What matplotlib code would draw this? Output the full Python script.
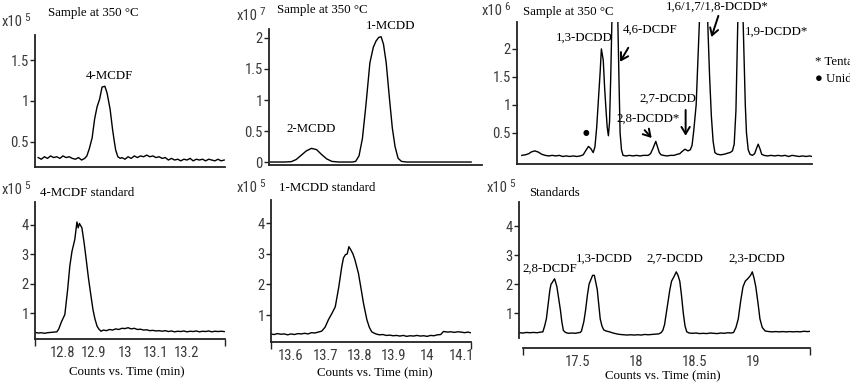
import matplotlib
matplotlib.use("Agg")
import matplotlib.pyplot as plt
from matplotlib import font_manager
from matplotlib.font_manager import FontProperties

# ---------------- data ----------------
# Top-left: sample at 350 °C, 4-MCDF (x10^5)
tl_t = [12.72, 12.73, 12.74, 12.75, 12.76, 12.77, 12.78, 12.79, 12.80, 12.81, 12.82, 12.83, 12.84,
        12.85, 12.86, 12.87, 12.877, 12.885, 12.894, 12.902, 12.91, 12.918, 12.926, 12.935, 12.942,
        12.952, 12.96, 12.965, 12.97, 12.977, 12.985, 12.99, 13.0, 13.01, 13.02, 13.03, 13.04, 13.05,
        13.06, 13.07, 13.08, 13.09, 13.10, 13.11, 13.12, 13.13, 13.14, 13.15, 13.16, 13.17, 13.18,
        13.19, 13.20, 13.21, 13.22, 13.23, 13.24, 13.25, 13.26, 13.27, 13.28, 13.29, 13.30, 13.31, 13.32]
tl_v = [0.31, 0.29, 0.32, 0.30, 0.33, 0.31, 0.32, 0.30, 0.33, 0.31, 0.32, 0.30, 0.29,
        0.31, 0.28, 0.30, 0.33, 0.42, 0.55, 0.78, 0.93, 1.02, 1.17, 1.18, 1.10,
        0.90, 0.65, 0.52, 0.40, 0.32, 0.30, 0.31, 0.29, 0.32, 0.30, 0.33, 0.31, 0.33,
        0.32, 0.34, 0.32, 0.33, 0.31, 0.32, 0.30, 0.31, 0.28, 0.30, 0.28, 0.29, 0.27,
        0.29, 0.28, 0.30, 0.27, 0.29, 0.28, 0.29, 0.27, 0.29, 0.28, 0.27, 0.29, 0.27, 0.28]

# Bottom-left: 4-MCDF standard (x10^5)
bl_t = [12.71, 12.72, 12.73, 12.74, 12.75, 12.76, 12.77, 12.78, 12.786, 12.795, 12.806, 12.815, 12.822,
        12.829, 12.838, 12.845, 12.849, 12.853, 12.861, 12.868, 12.874, 12.882, 12.89, 12.897, 12.903,
        12.91, 12.916, 12.923, 12.93, 12.94, 12.95, 12.96, 12.97, 12.98, 12.99, 13.0, 13.01, 13.02,
        13.03, 13.04, 13.05, 13.06, 13.07, 13.08, 13.09, 13.10, 13.11, 13.12, 13.13, 13.14, 13.15,
        13.16, 13.17, 13.18, 13.19, 13.20, 13.21, 13.22, 13.23, 13.24, 13.25, 13.26, 13.27, 13.28,
        13.29, 13.30, 13.31, 13.32]
bl_v = [0.34, 0.32, 0.33, 0.31, 0.33, 0.34, 0.35, 0.36, 0.45, 0.70, 0.95, 1.8, 2.6,
        3.1, 3.5, 4.1, 3.9, 4.05, 3.9, 3.4, 2.9, 2.2, 1.6, 1.1, 0.8,
        0.55, 0.45, 0.38, 0.42, 0.40, 0.44, 0.42, 0.46, 0.44, 0.48, 0.47, 0.50, 0.46,
        0.48, 0.44, 0.45, 0.42, 0.43, 0.40, 0.41, 0.39, 0.40, 0.38, 0.40, 0.37, 0.39,
        0.36, 0.38, 0.37, 0.39, 0.36, 0.38, 0.37, 0.39, 0.36, 0.38, 0.37, 0.39, 0.36,
        0.38, 0.37, 0.38, 0.37]

# Top-middle: sample at 350 °C, 2-MCDD / 1-MCDD (x10^7)
tm_t = [13.54, 13.58, 13.60, 13.615, 13.63, 13.645, 13.66, 13.675, 13.69, 13.705, 13.72, 13.74,
        13.78, 13.79, 13.80, 13.81, 13.82, 13.832, 13.842, 13.85, 13.858, 13.865, 13.872, 13.88,
        13.89, 13.898, 13.906, 13.915, 13.925, 13.94, 14.0, 14.13]
tm_v = [0.0, 0.0, 0.005, 0.04, 0.11, 0.18, 0.22, 0.20, 0.12, 0.05, 0.01, 0.0,
        0.0, 0.01, 0.10, 0.38, 0.90, 1.6, 1.85, 1.95, 2.01, 2.02, 1.9, 1.6,
        1.0, 0.55, 0.25, 0.06, 0.01, 0.0, 0.0, 0.0]

# Bottom-middle: 1-MCDD standard (x10^5)
bm_t = [13.54, 13.55, 13.56, 13.57, 13.58, 13.59, 13.60, 13.61, 13.62, 13.63, 13.64, 13.65, 13.66,
        13.67, 13.68, 13.69, 13.70, 13.71, 13.72, 13.73, 13.74, 13.749, 13.754, 13.76, 13.765,
        13.77, 13.776, 13.782, 13.788, 13.798, 13.806, 13.813, 13.823, 13.83, 13.837, 13.845,
        13.852, 13.86, 13.87, 13.88, 13.89, 13.90, 13.91, 13.92, 13.93, 13.94, 13.95, 13.96,
        13.97, 13.98, 13.99, 14.00, 14.01, 14.02, 14.03, 14.04, 14.048, 14.06, 14.07, 14.08,
        14.09, 14.10, 14.11, 14.12, 14.127]
bm_v = [0.38, 0.36, 0.39, 0.37, 0.38, 0.35, 0.38, 0.36, 0.39, 0.38, 0.40, 0.38, 0.42,
        0.41, 0.44, 0.47, 0.60, 0.85, 1.05, 1.27, 1.9, 2.58, 2.87, 2.98, 3.0,
        3.24, 3.13, 3.0, 2.8, 2.37, 1.85, 1.38, 0.84, 0.6, 0.45, 0.40,
        0.37, 0.35, 0.36, 0.33, 0.34, 0.32, 0.33, 0.31, 0.33, 0.30, 0.32, 0.31,
        0.33, 0.31, 0.32, 0.30, 0.33, 0.32, 0.35, 0.36, 0.46, 0.44, 0.45, 0.43,
        0.45, 0.44, 0.42, 0.44, 0.42]

# Top-right: sample at 350 °C, dichloro congeners (x10^6)
tr_t = [17.02, 17.05, 17.08, 17.10, 17.13, 17.16, 17.19, 17.22, 17.25, 17.28, 17.31, 17.34, 17.37,
        17.40, 17.43, 17.46, 17.49, 17.52, 17.545, 17.565, 17.59, 17.61, 17.63, 17.645, 17.66,
        17.675, 17.69, 17.70, 17.716, 17.728, 17.74, 17.75, 17.76, 17.77, 17.78, 17.795, 17.81,
        17.825, 17.836, 17.85, 17.86, 17.872, 17.885, 17.91, 17.94, 17.97, 18.00, 18.03, 18.06,
        18.10, 18.12, 18.14, 18.165, 18.18, 18.195, 18.21, 18.23, 18.26, 18.29, 18.32, 18.35,
        18.37, 18.39, 18.415, 18.44, 18.46, 18.475, 18.49, 18.51, 18.525, 18.54, 18.56, 18.577,
        18.595, 18.61, 18.625, 18.64, 18.655, 18.67, 18.69, 18.72, 18.75, 18.78, 18.80, 18.82,
        18.835, 18.85, 18.865, 18.88, 18.89, 18.905, 18.915, 18.93, 18.94, 18.955, 18.97, 18.99,
        19.01, 19.025, 19.04, 19.055, 19.07, 19.09, 19.12, 19.15, 19.18, 19.21, 19.24, 19.27,
        19.30, 19.33, 19.36, 19.39, 19.42, 19.45, 19.48, 19.50]
tr_v = [0.10, 0.11, 0.13, 0.16, 0.18, 0.16, 0.12, 0.10, 0.09, 0.10, 0.09, 0.10, 0.08,
        0.09, 0.08, 0.09, 0.08, 0.09, 0.11, 0.18, 0.26, 0.22, 0.15, 0.25, 0.6,
        1.1, 1.6, 2.0, 1.8, 1.3, 0.9, 0.6, 0.45, 0.7, 1.5, 3.0, 3.8,
        3.5, 3.0, 1.5, 0.5, 0.2, 0.10, 0.09, 0.10, 0.09, 0.10, 0.09, 0.10,
        0.10, 0.13, 0.22, 0.35, 0.25, 0.15, 0.11, 0.10, 0.09, 0.10, 0.10, 0.12,
        0.13, 0.17, 0.21, 0.18, 0.20, 0.28, 0.55, 1.0, 1.8, 2.6, 3.8, 4.0,
        3.6, 2.4, 1.5, 0.8, 0.35, 0.15, 0.12, 0.11, 0.12, 0.14, 0.15, 0.18,
        0.3, 0.9, 2.4, 3.6, 3.9, 3.0, 2.2, 1.0, 0.5, 0.2, 0.12, 0.10,
        0.13, 0.22, 0.30, 0.22, 0.12, 0.10, 0.09, 0.10, 0.09, 0.10, 0.09, 0.10,
        0.08, 0.10, 0.09, 0.08, 0.09, 0.08, 0.09, 0.08]

# Bottom-right: standards (x10^5)
br_t = [17.00, 17.03, 17.06, 17.09, 17.12, 17.15, 17.18, 17.20, 17.215, 17.23, 17.245, 17.26, 17.27,
        17.28, 17.29, 17.30, 17.31, 17.32, 17.335, 17.35, 17.362, 17.375, 17.39, 17.40, 17.42,
        17.45, 17.48, 17.50, 17.52, 17.53, 17.55, 17.565, 17.58, 17.595, 17.61, 17.625, 17.64,
        17.655, 17.665, 17.68, 17.69, 17.705, 17.72, 17.74, 17.77, 17.80, 17.83, 17.86, 17.89,
        17.92, 17.95, 17.98, 18.01, 18.04, 18.07, 18.10, 18.13, 18.16, 18.19, 18.21, 18.225,
        18.24, 18.255, 18.27, 18.285, 18.30, 18.32, 18.34, 18.355, 18.37, 18.385, 18.40, 18.415,
        18.43, 18.45, 18.48, 18.51, 18.54, 18.57, 18.60, 18.63, 18.66, 18.69, 18.72, 18.75,
        18.78, 18.81, 18.83, 18.85, 18.87, 18.89, 18.91, 18.93, 18.955, 18.975, 18.99, 19.005,
        19.02, 19.04, 19.055, 19.075, 19.10, 19.13, 19.16, 19.19, 19.22, 19.25, 19.28, 19.31,
        19.34, 19.37, 19.40, 19.43, 19.46, 19.50]
br_v = [0.32, 0.31, 0.33, 0.32, 0.33, 0.32, 0.34, 0.35, 0.55, 0.8, 1.3, 1.8, 2.0,
        2.05, 2.12, 2.18, 2.05, 1.9, 1.5, 1.1, 0.7, 0.4, 0.34, 0.32, 0.30,
        0.31, 0.30, 0.32, 0.33, 0.38, 0.7, 1.1, 1.6, 2.0, 2.15, 2.3, 2.3,
        2.0, 1.8, 1.2, 0.8, 0.55, 0.42, 0.38, 0.35, 0.31, 0.28, 0.26, 0.25,
        0.24, 0.25, 0.24, 0.25, 0.24, 0.26, 0.25, 0.26, 0.27, 0.28, 0.32, 0.4,
        0.6, 1.0, 1.4, 1.8, 2.1, 2.25, 2.42, 2.3, 2.1, 1.6, 1.0, 0.55,
        0.35, 0.31, 0.30, 0.31, 0.29, 0.30, 0.29, 0.31, 0.30, 0.29, 0.31, 0.30,
        0.32, 0.31, 0.33, 0.5, 0.8, 1.4, 1.9, 2.1, 2.2, 2.3, 2.42, 2.2,
        1.9, 1.3, 0.8, 0.5, 0.38, 0.36, 0.35, 0.36, 0.35, 0.36, 0.35, 0.36,
        0.35, 0.36, 0.35, 0.37, 0.36, 0.37]

exponents = ["5", "7", "6", "5", "5", "5"]
titles = ["Sample at 350 °C", "Sample at 350 °C", "Sample at 350 °C",
          "4-MCDF standard", "1-MCDD standard", "Standards"]
xlabel = "Counts vs. Time (min)"

# ---------------- fonts ----------------
avail = {f.name for f in font_manager.fontManager.ttflist}
SERIF = "Liberation Serif" if "Liberation Serif" in avail else "DejaVu Serif"


def find_narrow():
    cands = []
    for f in font_manager.fontManager.ttflist:
        n = f.name
        if f.style != "normal" or f.weight not in (400, "normal", "regular"):
            continue
        is_narrow = ("Narrow" in n or "Condensed" in n or
                     f.stretch in ("condensed", "semi-condensed"))
        if not is_narrow or "Serif" in n or "Mono" in n or "Extra" in n or "Ultra" in n:
            continue
        pri = 5
        for i, key in enumerate(["Liberation Sans Narrow", "Arial Narrow", "Roboto Condensed",
                                 "Open Sans", "Noto Sans", "DejaVu Sans"]):
            if n.startswith(key):
                pri = i
                break
        cands.append((pri, f.fname))
    if cands:
        cands.sort()
        return cands[0][1]
    return None


narrow_path = find_narrow()
if narrow_path:
    TICK_FP = FontProperties(fname=narrow_path, size=10.5)
    EXP_FP = FontProperties(fname=narrow_path, size=10.5)
    SUP_FP = FontProperties(fname=narrow_path, size=8)
else:
    TICK_FP = FontProperties(family="Liberation Sans", size=9)
    EXP_FP = FontProperties(family="Liberation Sans", size=8.5)
    SUP_FP = FontProperties(family="Liberation Sans", size=6.5)
TICKC = "#3a3a3a"

W, H = 850, 382
fig = plt.figure(figsize=(W / 100, H / 100), dpi=100)
renderer = fig.canvas.get_renderer()


def make_ax(l, t, r, b):
    return fig.add_axes([l / W, 1 - b / H, (r - l) / W, (b - t) / H])


def style(ax, xlim, ylim, yticks, xticks=None, xoutward=0, xbounds=None):
    ax.set_xlim(*xlim)
    ax.set_ylim(*ylim)
    for s in ("top", "right"):
        ax.spines[s].set_visible(False)
    for s in ("left", "bottom"):
        ax.spines[s].set_linewidth(1.3)
        ax.spines[s].set_color("#222222")
    if xoutward:
        ax.spines["bottom"].set_position(("outward", xoutward))
    if xbounds:
        ax.spines["bottom"].set_bounds(*xbounds)
    ax.set_yticks(yticks)
    ax.set_yticklabels([f"{v:g}" for v in yticks], fontproperties=TICK_FP, color=TICKC)
    ax.tick_params(axis="y", length=3.5, width=1.0, pad=1, color="#222222")
    if xticks is None:
        ax.set_xticks([])
    else:
        ax.set_xticks(xticks)
        ax.set_xticklabels([f"{v:g}" for v in xticks], fontproperties=TICK_FP, color=TICKC)
        ax.tick_params(axis="x", length=0, pad=5)
        lo, hi = xbounds if xbounds else xlim
        ax.set_xticks([lo, hi], minor=True)
        ax.tick_params(axis="x", which="minor", length=5, width=1.0, color="#222222")


def ftext(x, y, s, **kw):
    kw.setdefault("fontfamily", SERIF)
    kw.setdefault("fontsize", 9.3)
    kw.setdefault("va", "center")
    return fig.text(x / W, 1 - y / H, s, **kw)


def exp_label(x, y, e):
    t = fig.text(x / W, 1 - y / H, "x10", fontproperties=EXP_FP, color=TICKC, va="center")
    bb = t.get_window_extent(renderer=renderer)
    fig.text((bb.x1 + 1.5) / W, 1 - (y - 4) / H, e, fontproperties=SUP_FP, color=TICKC, va="center")


LW = 1.0
# top-left
ax = make_ax(35, 35, 225, 167)
ax.plot(tl_t, tl_v, color="black", lw=LW)
style(ax, (12.7097, 13.3226), (0.195, 1.805), [0.5, 1, 1.5])
# bottom-left
ax = make_ax(35, 202, 225, 339)
ax.plot(bl_t, bl_v, color="black", lw=LW)
style(ax, (12.7097, 13.3226), (0.116, 4.78), [1, 2, 3, 4], xticks=[12.8, 12.9, 13.0, 13.1, 13.2])
# top-middle
ax = make_ax(269, 29, 482, 165)
ax.plot(tm_t, tm_v, color="black", lw=LW)
style(ax, (13.535, 14.162), (-0.048, 2.145), [0, 0.5, 1, 1.5, 2])
# bottom-middle
ax = make_ax(271, 200, 471, 342)
ax.plot(bm_t, bm_v, color="black", lw=LW)
style(ax, (13.541, 14.129), (0.115, 4.77), [1, 2, 3, 4], xticks=[13.6, 13.7, 13.8, 13.9, 14.0, 14.1])
# top-right
axtr = make_ax(517, 22, 812, 164)
axtr.plot(tr_t, tr_v, color="black", lw=LW)
style(axtr, (16.979, 19.5), (-0.054, 2.48), [0.5, 1, 1.5, 2])
# bottom-right
ax = make_ax(519, 202, 810, 338)
ax.plot(br_t, br_v, color="black", lw=LW)
style(ax, (16.996, 19.483), (0.138, 4.83), [1, 2, 3, 4], xticks=[17.5, 18.0, 18.5, 19.0],
      xoutward=7.2, xbounds=(17.03, 19.483))

# exponent labels
exp_label(2, 22, exponents[0])
exp_label(237, 16, exponents[1])
exp_label(482, 11, exponents[2])
exp_label(2, 190, exponents[3])
exp_label(237, 188, exponents[4])
exp_label(487, 188, exponents[5])

# panel titles
ftext(48, 13, titles[0])
ftext(277, 10, titles[1])
ftext(523, 12, titles[2])
ftext(40, 193, titles[3])
ftext(279, 188, titles[4])
ftext(529, 193, titles[5])

# x-axis labels
ftext(127, 372, xlabel, ha="center")
ftext(375, 373, xlabel, ha="center")
ftext(663, 376, xlabel, ha="center")

# peak labels
ftext(109, 76, "4-MCDF", ha="center")
ftext(391, 26, "1-MCDD", ha="center")
ftext(311, 129, "2-MCDD", ha="center")
ftext(584, 38, "1,3-DCDD", ha="center")
ftext(623, 30, "4,6-DCDF", ha="left")
ftext(717, 7, "1,6/1,7/1,8-DCDD*", ha="center")
ftext(745, 32, "1,9-DCDD*", ha="left")
ftext(668, 99, "2,7-DCDD", ha="center")
ftext(648, 119, "2,8-DCDD*", ha="center")
ftext(586, 133, "●", ha="center", fontfamily="DejaVu Sans", fontsize=5.5)
ftext(815, 62, "* Tentatively identified", ha="left")
ftext(815, 79, "● Unidentified", ha="left", fontfamily=[SERIF, "DejaVu Sans"])
ftext(550, 269, "2,8-DCDF", ha="center")
ftext(604, 259, "1,3-DCDD", ha="center")
ftext(675, 259, "2,7-DCDD", ha="center")
ftext(757, 259, "2,3-DCDD", ha="center")

# arrows in the top-right panel (data coordinates)
arrows = [((17.86, 1.77), (17.93, 2.02)),
          ((18.64, 2.21), (18.70, 2.59)),
          ((18.42, 0.45), (18.42, 0.91)),
          ((18.13, 0.41), (18.07, 0.55))]
for tip, tail in arrows:
    axtr.annotate("", xy=tip, xytext=tail, xycoords="data", textcoords="data",
                  arrowprops=dict(arrowstyle="->,head_length=0.5,head_width=0.3", lw=1.4,
                                  color="black", shrinkA=0, shrinkB=0),
                  annotation_clip=False)

fig.savefig("out.png", dpi=100)
